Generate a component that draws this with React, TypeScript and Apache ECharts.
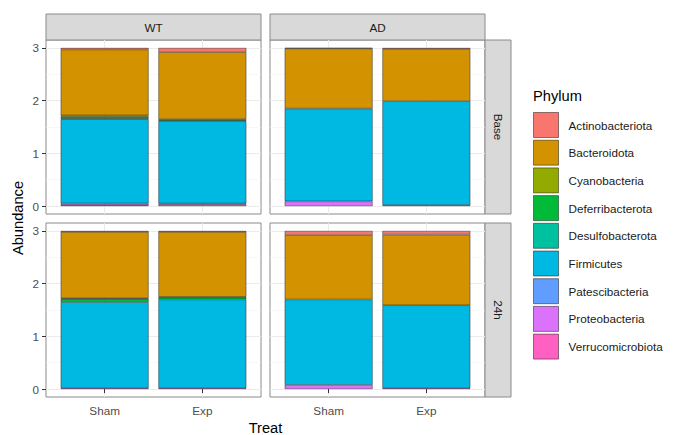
import React, { useEffect, useRef } from 'react';
import * as echarts from 'echarts';

const phyla = ['Actinobacteriota', 'Bacteroidota', 'Cyanobacteria', 'Deferribacterota', 'Desulfobacterota', 'Firmicutes', 'Patescibacteria', 'Proteobacteria', 'Verrucomicrobiota'];
const phylumColors = ['#F8766D', '#D39200', '#93AA00', '#00BA38', '#00C19F', '#00B9E3', '#619CFF', '#DB72FB', '#FF61C3'];
const genotypes = ['WT', 'AD'];
const times = ['Base', '24h'];
const treats = ['Sham', 'Exp'];
const yTicks = [0, 1, 2, 3];
const yMinorTicks = [0.5, 1.5, 2.5];

// order: Base-WT-Sham, Base-WT-Exp, Base-AD-Sham, Base-AD-Exp, 24h-WT-Sham, 24h-WT-Exp, 24h-AD-Sham, 24h-AD-Exp
const actinobacteriota = [0.03, 0.08, 0.01, 0.02, 0.02, 0.02, 0.08, 0.07];
const bacteroidota = [1.25, 1.27, 1.14, 0.99, 1.26, 1.23, 1.22, 1.34];
const cyanobacteria = [0.02, 0.02, 0, 0, 0.01, 0.01, 0, 0];
const deferribacterota = [0.04, 0.02, 0, 0, 0.06, 0.04, 0, 0];
const desulfobacterota = [0.01, 0, 0, 0, 0, 0, 0, 0];
const firmicutes = [1.60, 1.56, 1.76, 1.97, 1.63, 1.68, 1.62, 1.57];
const patescibacteria = [0, 0, 0, 0, 0, 0, 0, 0];
const proteobacteria = [0.03, 0.02, 0.09, 0.02, 0.02, 0.02, 0.08, 0.02];
const verrucomicrobiota = [0.02, 0.03, 0, 0, 0, 0, 0, 0];

const phylumValues = [actinobacteriota, bacteroidota, cyanobacteria, deferribacterota, desulfobacterota, firmicutes, patescibacteria, proteobacteria, verrucomicrobiota];

const FONT = '"Liberation Sans", Arimo, Helvetica, Arial, sans-serif';
const colLeft = [46, 270];
const rowTop = [40, 223];
const PW = 215;
const PH = 174;

export default function App() {
  const ref = useRef<HTMLDivElement>(null);
  useEffect(() => {
    document.body.style.margin = '0';
    if (!ref.current) return;
    const chart = echarts.init(ref.current, undefined, { renderer: 'svg' });
    const grids: any[] = [];
    const xAxes: any[] = [];
    const yAxes: any[] = [];
    const series: any[] = [];
    const graphics: any[] = [];
    for (let r = 0; r < 2; r++) {
      for (let c = 0; c < 2; c++) {
        const p = r * 2 + c;
        grids.push({
          left: colLeft[c], top: rowTop[r], width: PW, height: PH,
          show: true, backgroundColor: '#ffffff', borderColor: '#8a8a8a', borderWidth: 1,
        });
        xAxes.push({
          type: 'value', gridIndex: p, min: 0.4, max: 2.6,
          axisLine: { show: false },
          axisTick: { show: r === 1, customValues: [1, 2], length: 4, lineStyle: { color: '#333333' } },
          axisLabel: {
            show: r === 1, customValues: [1, 2], margin: 7, color: '#4D4D4D', fontSize: 11.7, fontFamily: FONT,
            formatter: (v: number) => treats[Math.round(v) - 1] ?? '',
          },
          splitLine: { show: true, lineStyle: { color: '#EBEBEB', width: 1 } },
        });
        yAxes.push({
          type: 'value', gridIndex: p, min: -0.15, max: 3.15, position: 'left',
          axisLine: { show: false },
          axisTick: { show: c === 0, customValues: yTicks, length: 4, lineStyle: { color: '#333333' } },
          axisLabel: { show: c === 0, customValues: yTicks, margin: 7, color: '#4D4D4D', fontSize: 11.7, fontFamily: FONT },
          splitLine: { show: true, lineStyle: { color: '#EBEBEB', width: 1 } },
        });
        for (let k = phyla.length - 1; k >= 0; k--) {
          const vals = phylumValues[k];
          series.push({
            type: 'bar', name: phyla[k], xAxisIndex: p, yAxisIndex: p, stack: 'p' + p,
            barWidth: 88,
            encode: { x: 1, y: 0 },
            itemStyle: { color: phylumColors[k], borderColor: 'rgba(0,0,0,0.62)', borderWidth: 0.6 },
            data: treats.map((_, t) => {
              const v = vals[p * 2 + t];
              return [v === 0 ? '-' : v, t + 1];
            }),
          });
        }
        if (r === 0) {
          graphics.push({
            type: 'rect', shape: { x: colLeft[c], y: 14, width: PW, height: 26 },
            style: { fill: '#D9D9D9', stroke: '#8a8a8a', lineWidth: 1 },
          });
          graphics.push({
            type: 'text', x: colLeft[c] + PW / 2, y: 27,
            style: { text: genotypes[c], fill: '#1A1A1A', fontSize: 11.7, fontFamily: FONT, align: 'center', verticalAlign: 'middle' },
          });
        }
        if (c === 1) {
          graphics.push({
            type: 'rect', shape: { x: colLeft[1] + PW, y: rowTop[r], width: 26, height: PH },
            style: { fill: '#D9D9D9', stroke: '#8a8a8a', lineWidth: 1 },
          });
          graphics.push({
            type: 'text', x: colLeft[1] + PW + 13, y: rowTop[r] + PH / 2, rotation: -Math.PI / 2,
            style: { text: times[r], fill: '#1A1A1A', fontSize: 11.7, fontFamily: FONT, align: 'center', verticalAlign: 'middle' },
          });
        }
      }
    }
    // minor y grid lines
    for (let p = 0; p < 4; p++) {
      yAxes.push({
        type: 'value', gridIndex: p, min: -0.15, max: 3.15, position: 'left',
        axisLine: { show: false },
        axisTick: { show: false, customValues: yMinorTicks },
        axisLabel: { show: false, customValues: yMinorTicks },
        splitLine: { show: true, lineStyle: { color: '#F3F3F3', width: 0.6 } },
      });
    }
    graphics.push({
      type: 'text', x: 18, y: 218, rotation: Math.PI / 2,
      style: { text: 'Abundance', fill: '#000000', fontSize: 14.67, fontFamily: FONT, align: 'center', verticalAlign: 'middle' },
    });
    graphics.push({
      type: 'text', x: (colLeft[0] + colLeft[1] + PW) / 2, y: 428,
      style: { text: 'Treat', fill: '#000000', fontSize: 14.67, fontFamily: FONT, align: 'center', verticalAlign: 'middle' },
    });
    graphics.push({
      type: 'text', x: 533, y: 96,
      style: { text: 'Phylum', fill: '#000000', fontSize: 14.67, fontFamily: FONT, align: 'left', verticalAlign: 'middle' },
    });

    chart.setOption({
      animation: false,
      grid: grids,
      xAxis: xAxes,
      yAxis: yAxes,
      series,
      legend: {
        orient: 'vertical', left: 533, top: 112, padding: 0,
        itemWidth: 25, itemHeight: 25, itemGap: 1.7, selectedMode: false,
        data: phyla.map((name) => ({ name, icon: 'rect' })),
        itemStyle: { borderColor: 'rgba(0,0,0,0.45)', borderWidth: 1 },
        textStyle: { fontSize: 11.7, color: '#1A1A1A', fontFamily: FONT, padding: [0, 0, 0, 5] },
      },
      graphic: graphics,
    });
    return () => chart.dispose();
  }, []);
  return <div ref={ref} style={{ width: 673, height: 435 }} />;
}
